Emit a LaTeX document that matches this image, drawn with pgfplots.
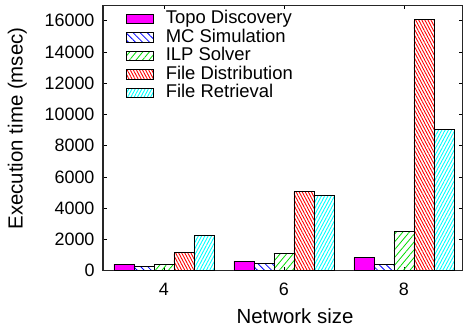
\documentclass[border=0pt]{standalone}
\usepackage{pgfplots}
\pgfplotsset{compat=1.18}
\usepackage{fontspec}
\setmainfont{Liberation Sans}
\usetikzlibrary{patterns.meta}

\definecolor{cTopo}{RGB}{255,0,255}
\definecolor{cMC}{RGB}{0,0,255}
\definecolor{cILP}{RGB}{0,220,0}
\definecolor{cFD}{RGB}{255,0,0}
\definecolor{cFR}{RGB}{0,255,255}

% network size index: 0 -> 4, 1 -> 6, 2 -> 8
\pgfplotstableread{
x topo mc ilp fd fr
0 420 256 384 1176 2264
1 620 470 1113 5080 4825
2 830 410 2540 16100 9050
}\timings

\begin{document}
\begin{tikzpicture}
\begin{axis}[
  at={(103bp,60.3bp)}, anchor=south west,
  scale only axis, width=360bp, height=265.6bp,
  xmin=-0.508, xmax=2.492, ymin=0, ymax=17000,
  ybar=0pt, bar width=20bp,
  xtick={0,1,2}, xticklabels={4,6,8},
  ytick={0,2000,...,16000},
  tick align=inside, major tick length=4bp,
  tick style={black, line width=0.7bp},
  axis line style={line width=1.1bp, black!85},
  scaled y ticks=false,
  /pgf/number format/assume math mode=true,
  tick label style={font=\fontsize{18}{20}\selectfont},
  yticklabel style={/pgf/number format/fixed, /pgf/number format/1000 sep={}, anchor=east, xshift=-5bp},
  xticklabel style={anchor=base, yshift=-25bp},
  label style={font=\fontsize{20.5}{22}\selectfont},
  xlabel={Network size}, ylabel={Execution time (msec)},
  xlabel style={at={(axis description cs:0.5333,-0.198)}, anchor=base},
  ylabel style={at={(axis description cs:-0.2236,0.5354)}, anchor=base},
  legend cell align=left,
  legend style={at={(0.064,0.983)}, anchor=north west, draw=none, fill=none,
    inner sep=0pt, column sep=11bp, row sep=0pt,
    font=\fontsize{18.5}{20}\selectfont,
    nodes={inner sep=0.75bp, text height=13bp, text depth=4bp}},
  legend image code/.code={\draw[#1, line width=0.8bp] (0bp,-4.7bp) rectangle (27bp,4.7bp);},
]
\addplot[draw=black, line width=0.8bp, fill=cTopo] table[x=x, y=topo] {\timings};
\addplot[draw=black, line width=0.8bp, pattern={Lines[angle=-45, distance=5bp, line width=0.8bp]}, pattern color=cMC] table[x=x, y=mc] {\timings};
\addplot[draw=black, line width=0.8bp, pattern={Lines[angle=50, distance=5bp, line width=0.8bp]}, pattern color=cILP] table[x=x, y=ilp] {\timings};
\addplot[draw=black, line width=0.8bp, pattern={Lines[angle=-62, distance=2.7bp, line width=0.9bp]}, pattern color=cFD] table[x=x, y=fd] {\timings};
\addplot[draw=black, line width=0.8bp, pattern={Lines[angle=62, distance=2.9bp, line width=0.9bp]}, pattern color=cFR] table[x=x, y=fr] {\timings};
\legend{Topo Discovery, MC Simulation, ILP Solver, File Distribution, File Retrieval}
\end{axis}
\pgfresetboundingbox
\useasboundingbox (0,0) rectangle (463bp,331bp);
\end{tikzpicture}
\end{document}
